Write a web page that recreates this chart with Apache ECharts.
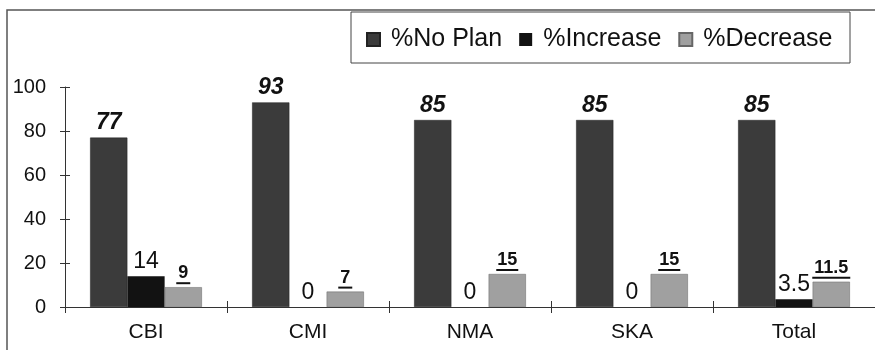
<!DOCTYPE html>
<html><head><meta charset="utf-8">
<script src="https://cdn.jsdelivr.net/npm/echarts@6/dist/echarts.min.js"></script>
<style>html,body{margin:0;padding:0;background:#fff}#c{width:875px;height:350px}</style>
</head><body><div id="c"></div>
<script>
const categories = ['CBI','CMI','NMA','SKA','Total'];
const noPlan = [77, 93, 85, 85, 85];
const increase = [14, 0, 0, 0, 3.5];
const decrease = [9, 7, 15, 15, 11.5];
const yTicks = [0, 20, 40, 60, 80, 100];

const F = '"Liberation Sans", Arial, sans-serif';
const chart = echarts.init(document.getElementById('c'));
const yBase = {
  type: 'value', min: yTicks[0], max: yTicks[yTicks.length-1], interval: 20,
  splitLine: {show: false}, position: 'left'
};
chart.setOption({
  animation: false,
  backgroundColor: '#fff',
  textStyle: {fontFamily: F},
  graphic: [
    {type: 'rect', shape: {x: 7, y: 10, width: 900, height: 400}, style: {fill: 'none', stroke: '#555', lineWidth: 1.5}, z: -1},
    {type: 'rect', shape: {x: 351, y: 12, width: 499, height: 51}, style: {fill: '#fff', stroke: '#444', lineWidth: 1}, z: 0}
  ],
  legend: {
    left: 361, top: 22, itemWidth: 13, itemHeight: 13, itemGap: 17, icon: 'rect',
    textStyle: {fontSize: 25, color: '#111', fontFamily: F, padding: [0,0,0,6]},
    data: ['%No Plan', '%Increase', '%Decrease']
  },
  grid: {left: 65, right: -13, top: 87, bottom: 43, containLabel: false},
  xAxis: [{
    type: 'category', data: categories,
    axisLine: {lineStyle: {color: '#333', width: 1}},
    axisTick: {show: true, length: 6, lineStyle: {color: '#333'}},
    axisLabel: {fontSize: 21, color: '#111', margin: 15, fontFamily: F}
  }, {
    type: 'category', data: categories, position: 'bottom',
    axisLine: {show: false},
    axisTick: {show: true, inside: true, length: 6, lineStyle: {color: '#333'}},
    axisLabel: {show: false}
  }],
  yAxis: [Object.assign({}, yBase, {
    axisLine: {show: true, lineStyle: {color: '#333'}},
    axisTick: {show: true, length: 5, lineStyle: {color: '#333'}},
    axisLabel: {fontSize: 20, color: '#111', margin: 19, fontFamily: F}
  }), Object.assign({}, yBase, {
    axisLine: {show: false},
    axisTick: {show: true, inside: true, length: 5, lineStyle: {color: '#333'}},
    axisLabel: {show: false}
  })],
  series: [
    {name: '%No Plan', type: 'bar', data: noPlan, barGap: '0%', barCategoryGap: '31%',
     itemStyle: {color: '#3b3b3b', borderColor: '#222', borderWidth: 0.5},
     label: {show: true, position: 'top', distance: 3, fontSize: 23, fontWeight: 'bold', fontStyle: 'italic', color: '#111', fontFamily: F}},
    {name: '%Increase', type: 'bar', data: increase,
     itemStyle: {color: '#121212'},
     label: {show: true, position: 'top', distance: 3, fontSize: 23, color: '#111', fontFamily: F}},
    {name: '%Decrease', type: 'bar', data: decrease,
     itemStyle: {color: '#a0a0a0', borderColor: '#666', borderWidth: 0.5},
     label: {show: true, position: 'top', distance: 3,
       formatter: p => { const s = String(p.value); return '{a|' + s + '}\n{u' + s.length + '|}'; },
       rich: {
         a: {fontSize: 18, fontWeight: 'bold', color: '#111', fontFamily: F, align: 'center', lineHeight: 18},
         u1: {width: 14, height: 2, backgroundColor: '#111', align: 'center'},
         u2: {width: 22, height: 2, backgroundColor: '#111', align: 'center'},
         u3: {width: 30, height: 2, backgroundColor: '#111', align: 'center'},
         u4: {width: 38, height: 2, backgroundColor: '#111', align: 'center'}
       }}}
  ]
});
</script></body></html>
